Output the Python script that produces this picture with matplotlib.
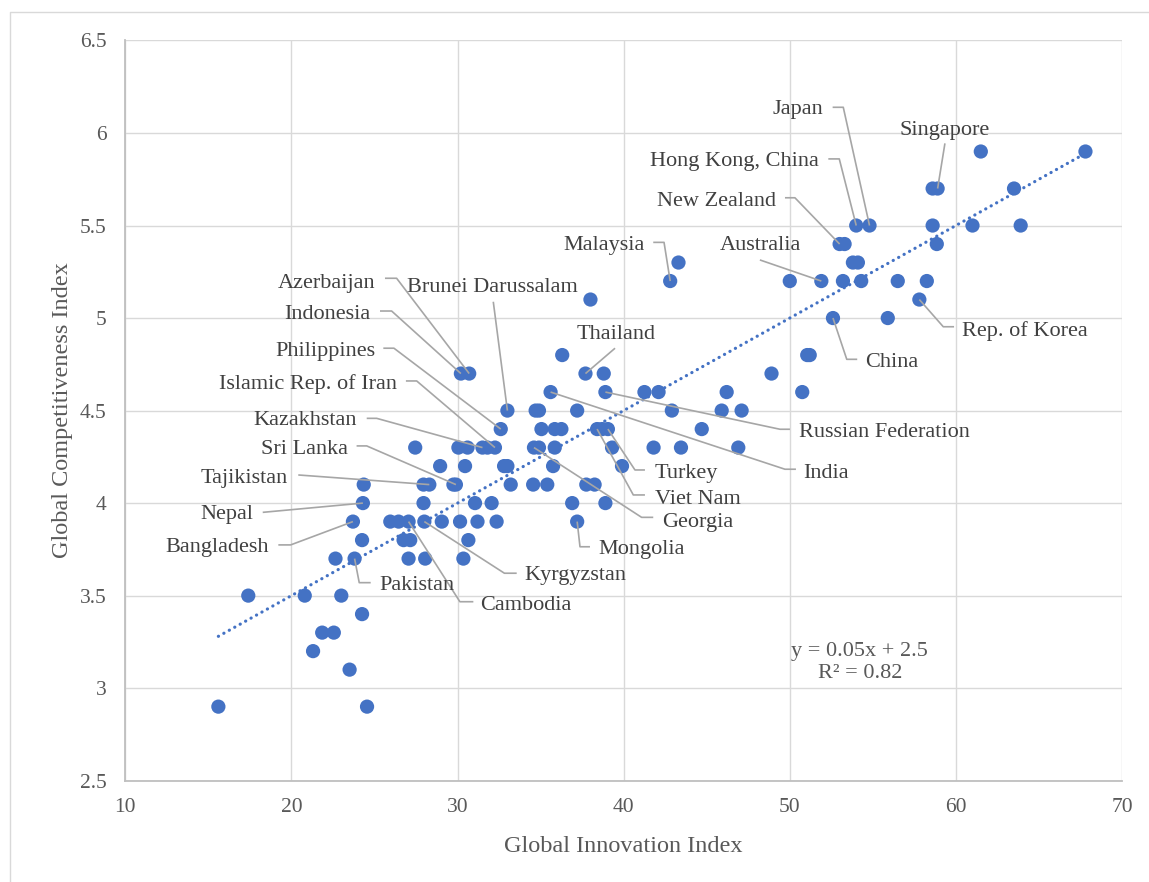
import numpy as np
import matplotlib
matplotlib.use("Agg")
import matplotlib.pyplot as plt
from matplotlib.lines import Line2D

# Countries that carry a name label: Global Innovation Index vs Global Competitiveness Index
labelled_names = [
    "Japan", "Singapore", "Hong Kong, China", "New Zealand", "Australia",
    "Malaysia", "Rep. of Korea", "China", "Azerbaijan", "Brunei Darussalam",
    "Indonesia", "Philippines", "Islamic Rep. of Iran", "Kazakhstan",
    "Sri Lanka", "Tajikistan", "Nepal", "Bangladesh", "Pakistan", "Cambodia",
    "Kyrgyzstan", "Mongolia", "Georgia", "Viet Nam", "Turkey", "Thailand",
    "Russian Federation", "India",
]
labelled_gii = [54.8, 58.9, 54.0, 53.0, 51.9, 42.8, 57.8, 52.6, 30.7, 33.0,
                30.2, 32.6, 32.25, 31.5, 29.9, 28.3, 24.3, 23.7, 23.8, 27.05,
                28.0, 37.2, 34.6, 38.4, 39.05, 37.7, 38.9, 35.6]
labelled_gci = [5.5, 5.7, 5.5, 5.4, 5.2, 5.2, 5.1, 5.0, 4.7, 4.5,
                4.7, 4.4, 4.3, 4.3, 4.1, 4.1, 4.0, 3.9, 3.7, 3.9,
                3.9, 3.9, 4.3, 4.4, 4.4, 4.7, 4.6, 4.6]

# Remaining economies (no label)
other_gii = [15.6, 17.4, 20.8, 21.3, 21.85, 22.55, 22.65, 23.0, 23.5, 24.35,
             24.25, 24.25, 24.55, 25.95, 26.45, 26.75, 27.15, 27.05, 28.05,
             29.05, 30.15, 31.2, 32.35, 27.95, 27.95, 28.95, 27.45, 29.75,
             30.05, 30.6, 30.45, 30.65, 30.35, 31.05, 32.05, 31.8, 32.8, 33.0,
             33.2, 34.7, 34.9, 34.9, 34.55, 35.4, 35.05, 35.85, 36.25, 35.85,
             35.75, 36.3, 38.0, 38.8, 37.2, 36.9, 37.75, 38.25, 38.7, 39.3,
             39.9, 38.9, 41.25, 42.1, 41.8, 43.45, 42.9, 43.3, 44.7, 45.9,
             47.1, 46.2, 46.9, 48.9, 51.05, 51.2, 50.75, 50.0, 53.3, 53.2,
             53.8, 54.1, 54.3, 55.9, 56.5, 58.25, 58.6, 58.6, 58.85, 61.5,
             61.0, 63.5, 63.9, 67.8]
other_gci = [2.9, 3.5, 3.5, 3.2, 3.3, 3.3, 3.7, 3.5, 3.1, 4.1,
             3.8, 3.4, 2.9, 3.9, 3.9, 3.8, 3.8, 3.7, 3.7,
             3.9, 3.9, 3.9, 3.9, 4.0, 4.1, 4.2, 4.3, 4.1,
             4.3, 4.3, 4.2, 3.8, 3.7, 4.0, 4.0, 4.3, 4.2, 4.2,
             4.1, 4.5, 4.5, 4.3, 4.1, 4.1, 4.4, 4.4, 4.4, 4.3,
             4.2, 4.8, 5.1, 4.7, 4.5, 4.0, 4.1, 4.1, 4.4, 4.3,
             4.2, 4.0, 4.6, 4.6, 4.3, 4.3, 4.5, 5.3, 4.4, 4.5,
             4.5, 4.6, 4.3, 4.7, 4.8, 4.8, 4.6, 5.2, 5.4, 5.2,
             5.3, 5.3, 5.2, 5.0, 5.2, 5.2, 5.7, 5.5, 5.4, 5.9,
             5.5, 5.7, 5.5, 5.9]

# Linear trend as reported on the chart
trend_slope = 0.05
trend_intercept = 2.5
r_squared = 0.82

x_ticks = [10, 20, 30, 40, 50, 60, 70]
y_ticks = [2.5, 3, 3.5, 4, 4.5, 5, 5.5, 6, 6.5]

# Label placement: text anchor, alignment, and leader-line vertices (text side first)
label_layout = {
    "Japan": (52.00, 6.139, "right", [(52.58, 6.139), (53.22, 6.139)]),
    "Singapore": (59.34, 6.026, "center", [(59.34, 5.944)]),
    "Hong Kong, China": (51.78, 5.857, "right", [(52.32, 5.860), (52.98, 5.860)]),
    "New Zealand": (49.17, 5.646, "right", [(49.71, 5.650), (50.31, 5.650)]),
    "Australia": (50.66, 5.404, "right", [(48.2, 5.314)]),
    "Malaysia": (41.29, 5.406, "right", [(41.78, 5.409), (42.43, 5.409)]),
    "Rep. of Korea": (60.35, 4.945, "left", [(59.89, 4.953), (59.24, 4.953)]),
    "China": (54.53, 4.773, "left", [(54.06, 4.777), (53.43, 4.777)]),
    "Azerbaijan": (25.03, 5.202, "right", [(25.63, 5.215), (26.33, 5.215)]),
    "Brunei Darussalam": (32.1, 5.179, "center", [(32.15, 5.088)]),
    "Indonesia": (24.73, 5.034, "right", [(25.33, 5.038), (26.03, 5.038)]),
    "Philippines": (25.03, 4.831, "right", [(25.53, 4.837), (26.17, 4.837)]),
    "Islamic Rep. of Iran": (26.37, 4.656, "right", [(26.89, 4.66), (27.54, 4.66)]),
    "Kazakhstan": (23.96, 4.458, "right", [(24.53, 4.458), (25.13, 4.458)]),
    "Sri Lanka": (23.38, 4.305, "right", [(23.92, 4.309), (24.53, 4.309)]),
    "Tajikistan": (19.81, 4.148, "right", [(20.41, 4.152)]),
    "Nepal": (17.70, 3.950, "right", [(18.27, 3.950)]),
    "Bangladesh": (18.65, 3.774, "right", [(19.21, 3.774), (19.95, 3.774)]),
    "Pakistan": (25.29, 3.567, "left", [(24.77, 3.570), (24.08, 3.570)]),
    "Cambodia": (31.35, 3.462, "left", [(30.95, 3.467), (30.14, 3.467)]),
    "Kyrgyzstan": (34.0, 3.624, "left", [(33.56, 3.621), (32.82, 3.621)]),
    "Mongolia": (38.47, 3.764, "left", [(37.97, 3.764), (37.37, 3.764)]),
    "Georgia": (42.29, 3.909, "left", [(41.78, 3.923), (41.08, 3.923)]),
    "Viet Nam": (41.88, 4.035, "left", [(41.28, 4.044), (40.58, 4.044)]),
    "Turkey": (41.88, 4.175, "left", [(41.28, 4.179), (40.68, 4.179)]),
    "Thailand": (39.52, 4.926, "center", [(39.48, 4.837)]),
    "Russian Federation": (50.55, 4.395, "left", [(50.01, 4.399), (49.41, 4.399)]),
    "India": (50.78, 4.175, "left", [(50.37, 4.183), (49.71, 4.183)]),
}

plt.rcParams["font.family"] = ["Liberation Serif", "DejaVu Serif"]

POINT = "#4472C4"
GRID = "#d9d9d9"
AXIS_TXT = "#595959"
LABEL_TXT = "#404040"
LEADER = "#a6a6a6"

fig = plt.figure(figsize=(11.49, 8.82), dpi=100)
fig.patch.set_facecolor("white")

# Chart-area frame (left and top edges)
frame_x = 10 / 1149
frame_y = 1 - 12 / 882
fig.lines.append(Line2D([frame_x, frame_x, 1.0], [0.0, frame_y, frame_y],
                        transform=fig.transFigure, color=GRID, linewidth=1.0))

ax = fig.add_axes([0.1091, 0.1149, 0.9765 - 0.1091, 0.9541 - 0.1149])
ax.set_xlim(10, 70)
ax.set_ylim(2.5, 6.5)
ax.set_xticks(x_ticks)
ax.set_yticks(y_ticks)
ax.set_xticklabels([f"{t:g}" for t in x_ticks])
ax.set_yticklabels([f"{t:g}" for t in y_ticks])
ax.grid(True, color=GRID, linewidth=1.0, zorder=0)
ax.set_axisbelow(True)
for side in ("top", "right"):
    ax.spines[side].set_visible(False)
for side in ("left", "bottom"):
    ax.spines[side].set_color("#bfbfbf")
    ax.spines[side].set_linewidth(1.3)
ax.tick_params(length=0, labelsize=15.5, labelcolor=AXIS_TXT)
ax.tick_params(axis="y", pad=13.5)
ax.tick_params(axis="x", pad=12.5)

ax.set_xlabel("Global Innovation Index", fontsize=17.5, color=AXIS_TXT, labelpad=14)
ax.set_ylabel("Global Competitiveness Index", fontsize=17.5, color=AXIS_TXT, labelpad=5)

all_gii = np.array(labelled_gii + other_gii)
all_gci = np.array(labelled_gci + other_gci)

ax.scatter(all_gii, all_gci, s=105, color=POINT, edgecolors="none", zorder=3)

# Trend line across the observed range
xs = np.linspace(all_gii.min(), all_gii.max(), 200)
ax.plot(xs, trend_slope * xs + trend_intercept, color=POINT, linewidth=2.3,
        linestyle=(0, (0.05, 1.9)), dash_capstyle="round", zorder=2)

ax.text(54.22, 3.14, f"y = {trend_slope:g}x + {trend_intercept:g}\nR² = {r_squared:.2f}",
        ha="center", va="center", fontsize=16, color=AXIS_TXT, linespacing=1.2,
        multialignment="center")

# Country labels with leader lines
for name, gx, gy in zip(labelled_names, labelled_gii, labelled_gci):
    tx, ty, ha, verts = label_layout[name]
    xs_l = [v[0] for v in verts] + [gx]
    ys_l = [v[1] for v in verts] + [gy]
    ax.plot(xs_l, ys_l, color=LEADER, linewidth=1.2, zorder=4,
            solid_capstyle="butt")
    ax.text(tx, ty, name, ha=ha, va="center_baseline", fontsize=16,
            color=LABEL_TXT, zorder=5)

fig.savefig("out.png", dpi=100, facecolor="white")
